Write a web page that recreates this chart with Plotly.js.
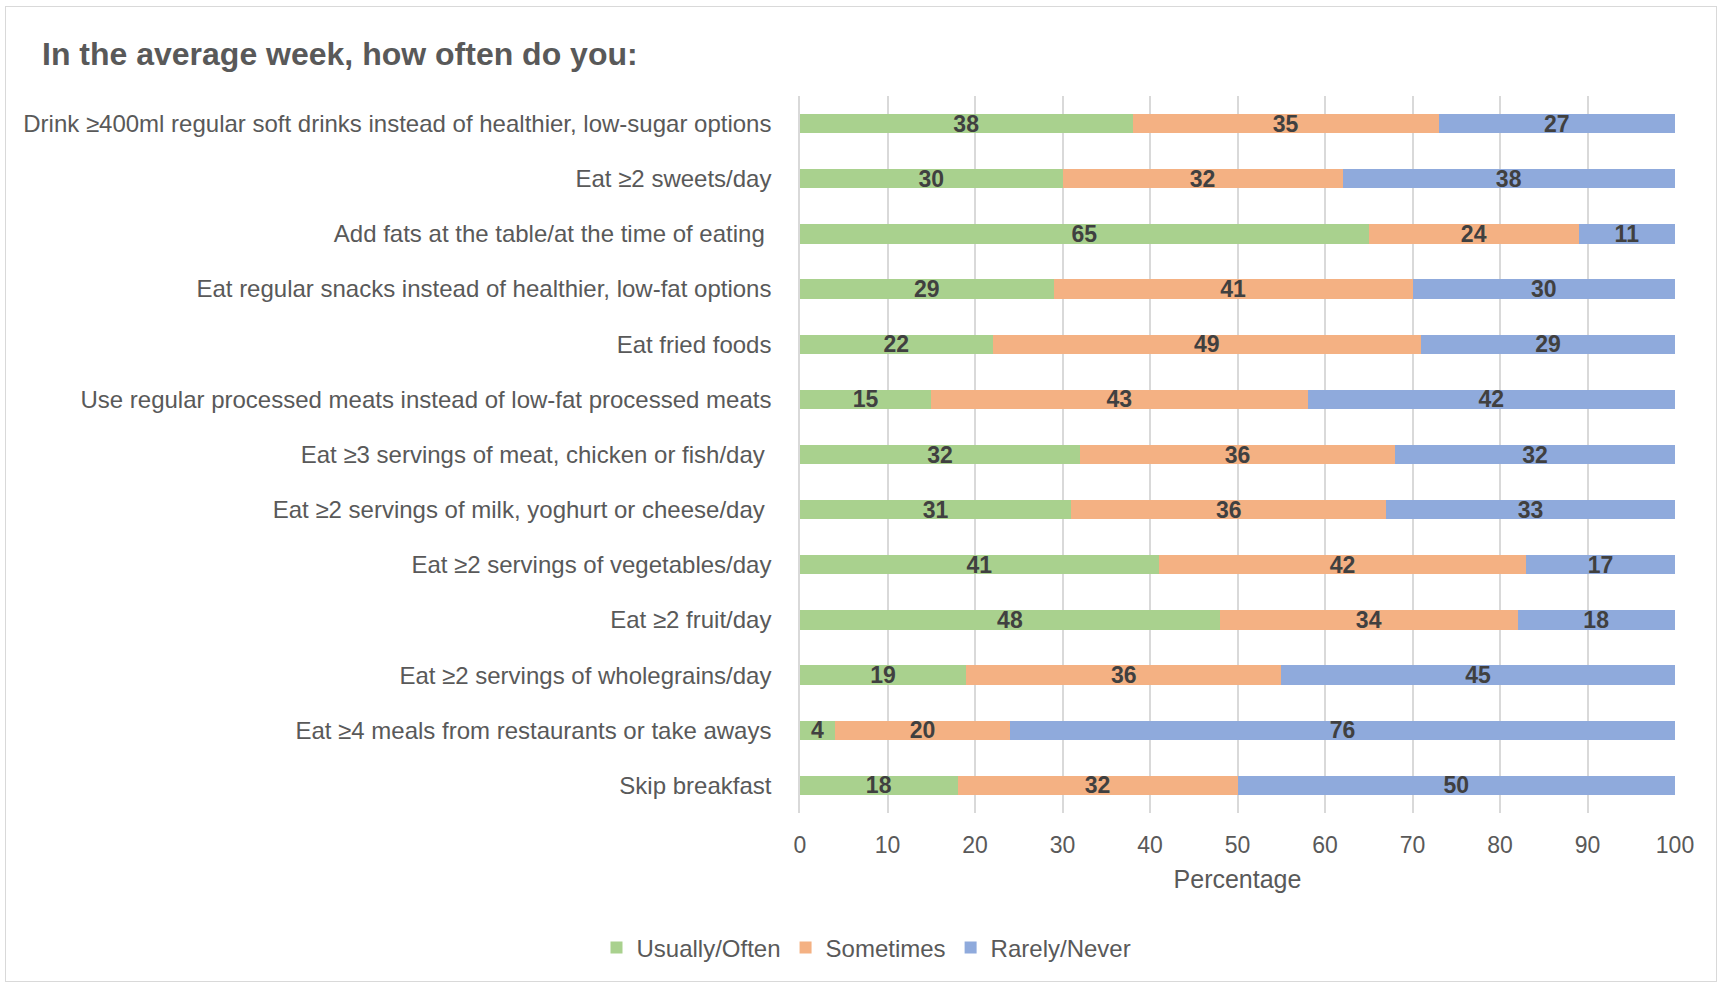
<!DOCTYPE html>
<html>
<head>
<meta charset="utf-8">
<script src="https://cdn.plot.ly/plotly-3.0.1.min.js"></script>
<style>
  html, body { margin: 0; padding: 0; background: #ffffff; }
  #chart { position: absolute; left: 0; top: 0; width: 1721px; height: 986px; }
  #frame { position: absolute; left: 5px; top: 6px; width: 1712px; height: 976px;
           border: 1px solid #d9d9d9; pointer-events: none; box-sizing: border-box; }
</style>
</head>
<body>
<div id="chart"></div>
<div id="frame"></div>
<script>
const titleText = "In the average week, how often do you:";
const categories = [
  "Drink ≥400ml regular soft drinks instead of healthier, low-sugar options",
  "Eat ≥2 sweets/day",
  "Add fats at the table/at the time of eating\u00a0",
  "Eat regular snacks instead of healthier, low-fat options",
  "Eat fried foods",
  "Use regular processed meats instead of low-fat processed meats",
  "Eat ≥3 servings of meat, chicken or fish/day\u00a0",
  "Eat ≥2 servings of milk, yoghurt or cheese/day\u00a0",
  "Eat ≥2 servings of vegetables/day",
  "Eat ≥2 fruit/day",
  "Eat ≥2 servings of wholegrains/day",
  "Eat ≥4 meals from restaurants or take aways",
  "Skip breakfast"
];
const seriesNames = ["Usually/Often", "Sometimes", "Rarely/Never"];
const usuallyOften = [38, 30, 65, 29, 22, 15, 32, 31, 41, 48, 19, 4, 18];
const sometimes    = [35, 32, 24, 41, 49, 43, 36, 36, 42, 34, 36, 20, 32];
const rarelyNever  = [27, 38, 11, 30, 29, 42, 32, 33, 17, 18, 45, 76, 50];
const seriesColors = ["#A9D18E", "#F4B183", "#8FAADC"];
const xTicks = [0, 10, 20, 30, 40, 50, 60, 70, 80, 90, 100];
const xTitle = "Percentage";

const FONT = "Liberation Sans, Arial, sans-serif";
const allValues = [usuallyOften, sometimes, rarelyNever];

const traces = allValues.map((vals, i) => ({
  type: "bar",
  orientation: "h",
  name: seriesNames[i],
  x: vals,
  y: categories,
  text: vals.map(String),
  textposition: "inside",
  insidetextanchor: "middle",
  textangle: 0,
  constraintext: "none",
  textfont: { family: FONT, size: 23, color: "#404040", weight: "bold" },
  marker: { color: seriesColors[i], line: { width: 0 } },
  hoverinfo: "x+y+name"
}));

const layout = {
  width: 1721,
  height: 986,
  paper_bgcolor: "#ffffff",
  plot_bgcolor: "#ffffff",
  barmode: "stack",
  bargap: 0.65,
  margin: { l: 800, r: 46, t: 96, b: 173, pad: 0 },
  font: { family: FONT, color: "#595959", size: 24 },
  title: {
    text: "<b>" + titleText + "</b>",
    font: { family: FONT, size: 32, color: "#595959" },
    xref: "container", x: 0.0244, xanchor: "left",
    yref: "container", y: 0.945, yanchor: "middle"
  },
  xaxis: {
    range: [0, 100],
    tickvals: xTicks,
    ticktext: xTicks.map(String),
    ticks: "",
    ticklabelstandoff: 16,
    tickfont: { family: FONT, size: 23, color: "#595959" },
    showgrid: true,
    gridcolor: "#d9d9d9",
    gridwidth: 1.5,
    zeroline: false,
    showline: false,
    fixedrange: true,
    title: { text: xTitle, font: { family: FONT, size: 25, color: "#595959" }, standoff: 13 }
  },
  yaxis: {
    type: "category",
    autorange: "reversed",
    ticks: "",
    ticklabelstandoff: 22,
    tickfont: { family: FONT, size: 24, color: "#595959" },
    showgrid: false,
    zeroline: false,
    showline: true,
    linecolor: "#d9d9d9",
    linewidth: 1.5,
    fixedrange: true
  },
  showlegend: true,
  legend: {
    orientation: "h",
    x: 0.076, xanchor: "center",
    y: -0.188, yanchor: "middle",
    font: { family: FONT, size: 24, color: "#595959" },
    itemwidth: 30,
    traceorder: "normal",
    bgcolor: "rgba(0,0,0,0)"
  }
};

Plotly.newPlot("chart", traces, layout, { displayModeBar: false, responsive: false });
</script>
</body>
</html>
